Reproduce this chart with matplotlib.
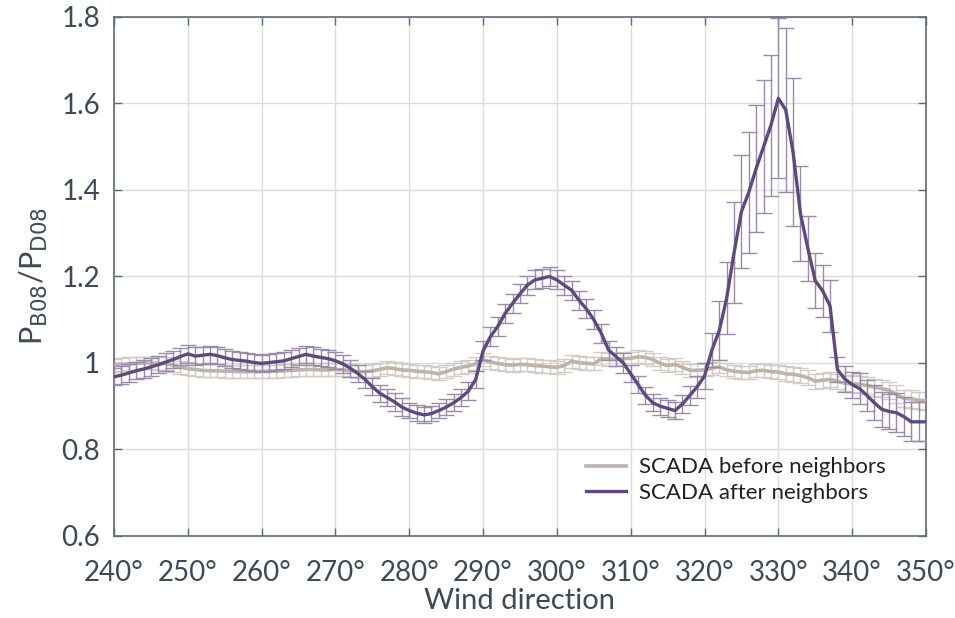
import numpy as np
import matplotlib
matplotlib.use("Agg")
import matplotlib.pyplot as plt

# wind direction bins (1 degree)
wind_dir = list(range(240, 351))

# P_B08 / P_D08 after neighbour correction
after_mean = [
    0.968, 0.972, 0.977, 0.982, 0.986, 0.991, 0.996, 1.002, 1.008, 1.015,
    1.021, 1.016, 1.018, 1.020, 1.017, 1.012, 1.008, 1.006, 1.004, 1.001,
    0.999, 1.001, 1.003, 1.005, 1.010, 1.015, 1.020, 1.016, 1.013, 1.010,
    1.005, 0.998, 0.988, 0.976, 0.962, 0.945, 0.930, 0.920, 0.910, 0.898,
    0.890, 0.884, 0.880, 0.883, 0.890, 0.898, 0.908, 0.920, 0.935, 0.962,
    1.028, 1.061, 1.085, 1.115, 1.138, 1.160, 1.180, 1.192, 1.196, 1.200,
    1.192, 1.180, 1.168, 1.145, 1.125, 1.100, 1.069, 1.030, 1.015, 1.000,
    0.975, 0.950, 0.925, 0.908, 0.900, 0.895, 0.890, 0.905, 0.925, 0.945,
    0.970, 1.030, 1.075, 1.150, 1.255, 1.350, 1.395, 1.450, 1.500, 1.550,
    1.612, 1.585, 1.487, 1.345, 1.265, 1.190, 1.167, 1.132, 0.985, 0.963,
    0.950, 0.941, 0.925, 0.908, 0.893, 0.888, 0.885, 0.876, 0.864, 0.864,
    0.864,
]
after_err = [
    0.020, 0.020, 0.020, 0.020, 0.020, 0.020, 0.020, 0.020, 0.020, 0.020,
    0.020, 0.020, 0.020, 0.020, 0.020, 0.020, 0.020, 0.020, 0.020, 0.020,
    0.020, 0.020, 0.020, 0.020, 0.020, 0.020, 0.020, 0.020, 0.020, 0.020,
    0.020, 0.020, 0.020, 0.020, 0.020, 0.020, 0.020, 0.020, 0.020, 0.020,
    0.018, 0.018, 0.018, 0.018, 0.018, 0.018, 0.020, 0.020, 0.020, 0.020,
    0.022, 0.022, 0.022, 0.022, 0.022, 0.022, 0.022, 0.022, 0.022, 0.022,
    0.022, 0.022, 0.022, 0.022, 0.022, 0.022, 0.022, 0.022, 0.022, 0.022,
    0.020, 0.020, 0.020, 0.020, 0.020, 0.020, 0.020, 0.020, 0.022, 0.025,
    0.030, 0.040, 0.068, 0.084, 0.117, 0.130, 0.140, 0.147, 0.154, 0.163,
    0.185, 0.190, 0.171, 0.110, 0.075, 0.064, 0.060, 0.060, 0.030, 0.030,
    0.030, 0.035, 0.035, 0.040, 0.040, 0.040, 0.045, 0.045, 0.045, 0.045,
    0.045,
]

# P_B08 / P_D08 before neighbour correction
before_mean = [
    0.995, 0.997, 0.998, 0.999, 1.000, 1.000, 0.999, 0.998, 0.995, 0.990,
    0.987, 0.985, 0.983, 0.982, 0.982, 0.981, 0.981, 0.980, 0.980, 0.980,
    0.981, 0.981, 0.981, 0.982, 0.983, 0.984, 0.985, 0.985, 0.984, 0.984,
    0.985, 0.984, 0.982, 0.980, 0.980, 0.982, 0.985, 0.989, 0.987, 0.984,
    0.983, 0.981, 0.980, 0.978, 0.975, 0.980, 0.986, 0.990, 0.993, 0.998,
    1.007, 1.002, 0.999, 0.996, 0.995, 0.997, 0.996, 0.994, 0.993, 0.991,
    0.990, 0.994, 1.004, 1.001, 0.999, 0.998, 1.010, 1.009, 1.008, 1.010,
    1.011, 1.014, 1.013, 1.008, 0.999, 0.994, 0.997, 0.990, 0.983, 0.983,
    0.984, 0.988, 0.991, 0.984, 0.981, 0.979, 0.978, 0.982, 0.983, 0.980,
    0.979, 0.975, 0.974, 0.971, 0.966, 0.958, 0.960, 0.962, 0.958, 0.953,
    0.952, 0.951, 0.948, 0.944, 0.941, 0.937, 0.928, 0.918, 0.917, 0.914,
    0.912,
]
before_err = [0.015] * 90 + [0.017] * 10 + [0.020] * 11

C_AFTER = "#5e4a7b"
C_BEFORE = "#bcb3aa"
C_TEXT = "#3d4a58"
C_SPINE = "#5f6b79"

plt.rcParams["font.family"] = ["Lato", "DejaVu Sans"]

fig = plt.figure(figsize=(9.55, 6.18), dpi=100)
ax = fig.add_axes([0.1194, 0.1327, 0.8502, 0.8398])

ax.errorbar(wind_dir, before_mean, yerr=before_err, fmt="none",
            ecolor="#d3ccc5", elinewidth=1.0, capsize=6, capthick=1.0,
            zorder=2)
ax.plot(wind_dir, before_mean, color=C_BEFORE, linewidth=2.6,
        label="SCADA before neighbors", zorder=3)

ax.errorbar(wind_dir, after_mean, yerr=after_err, fmt="none",
            ecolor="#9a8bab", elinewidth=1.0, capsize=6, capthick=1.0,
            zorder=4)
ax.plot(wind_dir, after_mean, color=C_AFTER, linewidth=2.4,
        label="SCADA after neighbors", zorder=5)

ax.set_xlim(240, 350)
ax.set_ylim(0.6, 1.8)

xticks = list(range(240, 351, 10))
ax.set_xticks(xticks)
ax.set_xticklabels([f"{t}°" for t in xticks])
yticks = [0.6, 0.8, 1.0, 1.2, 1.4, 1.6, 1.8]
ax.set_yticks(yticks)
ax.set_yticklabels(["0.6", "0.8", "1", "1.2", "1.4", "1.6", "1.8"])

ax.grid(True, color="#dcdcdc", linewidth=1.0)
ax.set_axisbelow(True)

ax.tick_params(direction="in", length=6, width=1, colors=C_SPINE,
               labelcolor=C_TEXT, labelsize=20, top=True, right=True)
ax.tick_params(axis="x", pad=17)
ax.tick_params(axis="y", pad=10)
for s in ax.spines.values():
    s.set_color(C_SPINE)
    s.set_linewidth(1.2)

ax.set_xlabel("Wind direction", fontsize=21, color=C_TEXT, labelpad=2)
ax.set_ylabel(r"P$_{\mathrm{B08}}$/P$_{\mathrm{D08}}$", fontsize=22,
              color=C_TEXT, labelpad=8)

ax.legend(loc="lower right", frameon=False, fontsize=16,
          handlelength=1.8, handletextpad=0.6, labelspacing=0.25,
          bbox_to_anchor=(0.975, 0.025), labelcolor="#222222")

fig.savefig("out.png", dpi=100)
